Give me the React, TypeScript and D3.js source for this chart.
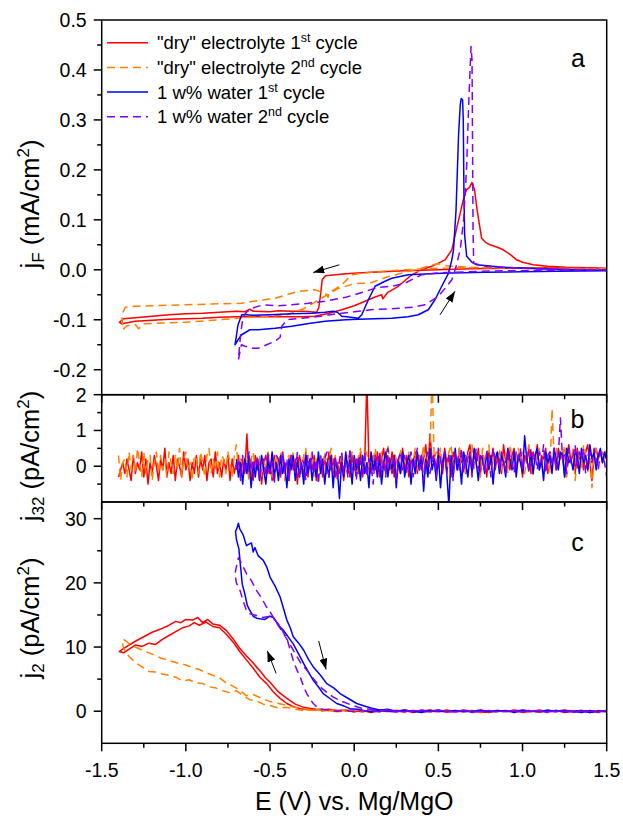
import React from "react";
import * as d3 from "d3";

// ---------- axis ticks ----------
const xTicksMajor = [-1.5, -1, -0.5, 0, 0.5, 1, 1.5];
const xTickLabels = ["-1.5", "-1.0", "-0.5", "0.0", "0.5", "1.0", "1.5"];
const xTicksMinor = [-1.25, -0.75, -0.25, 0.25, 0.75, 1.25];
const aTicks = [-0.2, -0.1, 0, 0.1, 0.2, 0.3, 0.4, 0.5];
const aTickLabels = ["-0.2", "-0.1", "0.0", "0.1", "0.2", "0.3", "0.4", "0.5"];
const aTicksMinor = [-0.15, -0.05, 0.05, 0.15, 0.25, 0.35, 0.45];
const bTicks = [0, 1, 2];
const bTickLabels = ["0", "1", "2"];
const bTicksMinor = [-0.5, 0.5, 1.5];
const cTicks = [0, 10, 20, 30];
const cTickLabels = ["0", "10", "20", "30"];
const cTicksMinor = [5, 15, 25];

// ---------- legend ----------
const seriesNames = [
  ['"dry" electrolyte 1', "st", " cycle"],
  ['"dry" electrolyte 2', "nd", " cycle"],
  ["1 w% water 1", "st", " cycle"],
  ["1 w% water 2", "nd", " cycle"],
];
const seriesColors = ["#ff0000", "#ff8000", "#0000ff", "#8000ff"];
const seriesDashed = [false, true, false, true];

// ---------- panel a: jF (mA/cm2) vs E (V) ----------
const aDry1: [number, number][] = [
  [1.5, 0.003], [1.3, 0.004], [1.1, 0.004], [0.9, 0.003], [0.7, 0.002], [0.5, 0.0], [0.3, -0.002], [0.1, -0.005],
  [-0.05, -0.008], [-0.17, -0.012], [-0.19, -0.02], [-0.2, -0.05], [-0.21, -0.075], [-0.223, -0.085], [-0.3, -0.083],
  [-0.37, -0.083], [-0.45, -0.082], [-0.5, -0.084], [-0.6, -0.083], [-0.62, -0.079], [-0.65, -0.084], [-0.7, -0.083],
  [-0.8, -0.085], [-0.9, -0.087], [-1.0, -0.088], [-1.1, -0.09], [-1.2, -0.093], [-1.3, -0.096], [-1.37, -0.098],
  [-1.395, -0.105],
  [-1.38, -0.108], [-1.3, -0.103], [-1.2, -0.101], [-1.1, -0.099], [-1.0, -0.098], [-0.9, -0.097], [-0.8, -0.095],
  [-0.7, -0.094], [-0.6, -0.094], [-0.5, -0.094], [-0.4, -0.094], [-0.3, -0.094], [-0.233, -0.093], [-0.15, -0.087],
  [-0.074, -0.08], [0.0, -0.072], [0.064, -0.063], [0.12, -0.055], [0.163, -0.05], [0.17, -0.058], [0.2, -0.045],
  [0.262, -0.033], [0.342, -0.01], [0.4, 0.0], [0.46, 0.007], [0.54, 0.02], [0.58, 0.04], [0.61, 0.085],
  [0.648, 0.14], [0.667, 0.16], [0.685, 0.165], [0.70, 0.175], [0.715, 0.16], [0.73, 0.12], [0.757, 0.063],
  [0.78, 0.055], [0.807, 0.05], [0.85, 0.045], [0.886, 0.04], [0.93, 0.03], [0.965, 0.02], [1.0, 0.015],
  [1.064, 0.01], [1.15, 0.007], [1.26, 0.005], [1.4, 0.004], [1.5, 0.003],
];
const aDry2: [number, number][] = [
  [1.5, 0.002], [1.2, 0.003], [0.9, 0.004], [0.6, 0.004], [0.4, 0.002], [0.2, -0.002], [0.04, -0.007],
  [-0.015, -0.01], [-0.074, -0.03], [-0.12, -0.04], [-0.15, -0.045], [-0.155, -0.055], [-0.17, -0.048],
  [-0.233, -0.04], [-0.33, -0.043], [-0.47, -0.057], [-0.6, -0.063], [-0.67, -0.067], [-0.8, -0.068],
  [-1.0, -0.07], [-1.2, -0.072], [-1.3, -0.073], [-1.36, -0.075], [-1.38, -0.09], [-1.375, -0.12],
  [-1.35, -0.112], [-1.3, -0.11], [-1.28, -0.118], [-1.25, -0.108], [-1.1, -0.106], [-1.0, -0.105],
  [-0.8, -0.1], [-0.62, -0.095], [-0.5, -0.093], [-0.4, -0.09], [-0.3, -0.078], [-0.2, -0.058], [-0.1, -0.038],
  [0.0, -0.028], [0.1, -0.026], [0.2, -0.014], [0.3, -0.005], [0.4, 0.003], [0.46, 0.01], [0.5, 0.012],
  [0.55, 0.008], [0.7, 0.005], [1.0, 0.003], [1.5, 0.002],
];
const aWater1: [number, number][] = [
  [1.5, -0.002], [1.2, -0.003], [1.0, -0.004], [0.777, -0.005], [0.52, -0.007], [0.322, -0.01], [0.223, -0.017],
  [0.183, -0.023], [0.124, -0.033], [0.084, -0.06], [0.045, -0.09], [0.024, -0.097], [-0.02, -0.095],
  [-0.074, -0.093], [-0.1, -0.085], [-0.124, -0.083], [-0.173, -0.085], [-0.25, -0.087], [-0.371, -0.088],
  [-0.5, -0.09], [-0.6, -0.091], [-0.64, -0.09], [-0.668, -0.09], [-0.69, -0.11], [-0.708, -0.15],
  [-0.69, -0.14], [-0.668, -0.13], [-0.62, -0.12], [-0.57, -0.12], [-0.47, -0.117], [-0.371, -0.113],
  [-0.26, -0.107], [-0.173, -0.103], [-0.05, -0.1], [0.024, -0.099], [0.223, -0.097], [0.32, -0.094],
  [0.381, -0.09], [0.44, -0.08], [0.48, -0.06], [0.52, -0.033], [0.56, -0.007], [0.58, 0.02], [0.59, 0.04],
  [0.605, 0.12], [0.62, 0.27], [0.63, 0.33], [0.636, 0.343], [0.644, 0.34], [0.648, 0.3], [0.652, 0.15],
  [0.656, 0.07], [0.668, 0.027], [0.7, 0.015], [0.728, 0.01], [0.88, 0.005], [1.1, 0.002], [1.3, 0.0],
  [1.5, -0.001],
];
const aWater2: [number, number][] = [
  [1.5, 0.0], [1.2, -0.001], [0.9, -0.002], [0.75, -0.003], [0.5, -0.006], [0.4, -0.01], [0.3, -0.027],
  [0.223, -0.033], [0.143, -0.035], [0.05, -0.045], [-0.05, -0.055], [-0.173, -0.063], [-0.272, -0.067],
  [-0.371, -0.07], [-0.45, -0.072], [-0.54, -0.07], [-0.609, -0.077], [-0.64, -0.085], [-0.66, -0.093],
  [-0.675, -0.13], [-0.688, -0.18],
  [-0.67, -0.15], [-0.649, -0.153], [-0.6, -0.157], [-0.57, -0.157], [-0.52, -0.15], [-0.47, -0.143],
  [-0.44, -0.135], [-0.43, -0.113], [-0.4, -0.1], [-0.312, -0.097], [-0.2, -0.093], [-0.1, -0.088],
  [0.0, -0.084], [0.1, -0.08], [0.262, -0.077], [0.35, -0.075], [0.42, -0.07], [0.5, -0.053], [0.55, -0.033],
  [0.58, -0.02], [0.6, 0.0], [0.63, 0.04], [0.65, 0.1], [0.668, 0.207], [0.68, 0.33], [0.694, 0.447],
  [0.7, 0.42], [0.703, 0.25], [0.706, 0.08], [0.71, 0.013], [0.78, 0.007], [1.0, 0.003], [1.2, 0.001],
  [1.5, 0.0],
];

// ---------- panel b: j32 (pA/cm2), sampled every 0.0125 V ----------
const bStep = 0.0125;
const bDryStart = -1.4;
const bWaterStart = -0.7;
const bDry1 = [
  -.3, -.1, .1, -.2, .2, -.1, -.4, .3, -.2, .1, -.1, .4, -.3, .2, -.5, .1, -.2, .3, 0, -.4,
  .2, -.1, .5, -.3, .1, -.2, .3, -.4, .2, 0, -.3, .4, -.1, .2, -.4, .1, -.2, .3, -.3, .2,
  -.1, .3, -.4, .1, .2, -.3, .4, -.2, .1, -.3, .2, -.1, .3, -.4, .2, -.2, .1, .3, -.3, .2,
  -.2, .9, -.3, .2, -.4, .3, -.1, .2, -.5, .1, .3, -.2, .1, -.4, .3, -.1, .2, -.3, .4, -.2,
  .1, -.4, .3, -.1, .2, -.5, .3, 0, -.2, .4, -.3, .2, -.1, .3, -.4, .2, .1, -.3, .3, -.2,
  .4, -.1, .2, -.3, .1, -.2, .3, -.4, .2, .1, -.3, .3, -.1, .2, -.2, .4, -.3, .1, 2.4, .1,
  -.2, .3, -.1, .4, -.3, .2, .5, -.2, .3, -.1, .4, -.3, .2, .1, -.2, .5, -.1, .3, -.3, .2,
  .1, .4, -.2, .3, -.1, .2, .6, -.2, .9, .2, .3, -.1, .4, .2, -.2, .5, .1, .3, -.3, .4,
  .2, -.1, .5, .1, .3, -.2, .4, .6, -.1, .3, .1, .5, -.2, .3, .2, -.3, .4, .1, .5, -.1,
  .3, .2, -.2, .6, .1, .4, -.1, .3, .5, 0, .2, .4, -.3, .3, .1, .5, -.2, .4, .2, .6,
  -.1, .3, .2, .5, -.2, .4, .1, .3, -.1, .5, .2, .4, -.3, .3, .6, .1, .4, -.2, .5, .2,
  .3, -.1, .4, .6, .1, -.4, .3, .5, .2, .4, .1, .3, .2,
];
const bDry2 = [
  .3, -.4, .1, .2, -.3, .4, -.1, .3, -.2, .5, .1, -.3, .4, -.2, .2, .3, -.4, .1, .4, -.2,
  .3, -.1, .2, -.3, .4, .1, -.2, .3, -.1, .5, -.3, .2, .4, -.1, .1, -.4, .3, .2, -.2, .4,
  .1, -.3, .3, .5, -.2, .2, -.1, .4, -.3, .3, .2, -.2, .4, .1, -.3, .3, .6, -.1, .2, -.2,
  .3, .1, -.4, .2, .4, -.2, .1, .3, -.3, .2, -.1, .4, .2, -.3, .1, .3, -.2, .4, .1, -.4,
  .2, .3, -.1, .4, -.3, .2, .1, -.2, .3, .5, -.2, .1, .4, -.3, .2, 0, .3, -.1, .4, -.2,
  .2, .5, -.1, .3, -.3, .1, .4, -.2, .2, .3, -.1, .4, .1, -.2, .3, .5, -.1, .2, .4, -.2,
  .3, .1, .5, -.2, .2, .4, -.1, .3, .6, .1, -.2, .4, .2, -.1, .5, .1, .3, -.2, .4, .2,
  .1, .5, -.1, .3, .2, .6, -.2, .4, .3, 2.6, .2, .4, -.1, .5, .1, .3, -.2, .4, .6, .1,
  .3, -.1, .5, .2, .4, -.2, .3, .1, .6, -.1, .4, .2, -.3, .5, .1, .3, .6, -.2, .4, .2,
  .1, .5, -.1, .3, .4, -.2, .6, .2, .3, -.1, .5, .2, .4, -.2, .3, .6, .1, -.3, .4, .2,
  .5, -.1, .3, .4, .1, -.2, 1.6, .3, .5, -.1, .4, .2, .6, -.3, .3, .1, .5, -.4, .2, .4,
  -.1, .6, .3, -.2, .4, -.6, .2, .5, .1, .3, .4, .2, .5,
];
const bWater1 = [
  .2, -.3, .1, -.5, .2, -.2, .3, -.6, .1, -.3, .2, -.4, .3, -.1, -.5, .2, -.2, .4, -.3, .1,
  -.4, .3, -.2, .1, -.6, .2, -.1, .3, -.4, .2, -.3, .1, -.5, .3, -.2, .2, -.4, .1, -.3, .4,
  -.2, .2, -.5, .1, -.3, .3, -.6, .2, -.1, -.9, .1, -.3, .4, -.2, .2, -.5, .3, -.1, .2, -.4,
  .3, -.2, .1, -.6, .4, -.1, .2, -.3, .3, -.5, .1, .4, -.3, .2, -.1, .3, -.6, .2, -.2, .4,
  -.3, .1, .3, -.5, .2, -.2, .4, -.1, .3, -.7, .2, -.3, .5, -.1, .2, -.4, .3, -.6, .1, .4,
  -.2, -1.1, .3, -.3, .5, -.1, .2, -.5, .4, .1, -.3, .3, -.2, .5, .1, -.4, .3, .2, -.2, .4,
  -.1, .3, -.5, .2, .4, -.2, .3, .1, -.3, .5, .2, -.1, .4, -.3, .3, .1, -.2, .85, .2, -.1,
  .4, -.2, .3, .5, -.1, .2, -.4, .4, .1, .3, -.2, .5, .2, -.1, .4, .3, -.3, .5, .1, .2,
  -.1, .4, .3, -.2, .5, .1, .3, -.1, .6, .2, .4, -.1, .3, .5, .1, .4, .2,
];
const bWater2 = [
  -.1, .2, -.4, .3, -.2, .1, .4, -.3, .2, -.1, .3, -.4, .1, .2, -.3, .4, -.2, .1, -.5, .3,
  .2, -.3, .4, -.1, .2, -.4, .3, .1, -.2, .4, -.3, .2, .1, -.4, .3, -.1, .4, -.2, .2, -.5,
  .3, -.1, .2, .4, -.3, .1, -.2, .3, -.4, .2, .4, -.2, .1, -.3, .5, -.1, .2, -.4, .3, .1,
  -.2, .4, -.3, .2, .1, -.5, .3, -.1, .4, -.2, .2, -.3, .5, .1, -.2, .3, -.4, .2, .4, -.1,
  .3, -.2, .1, .4, -.3, .2, .5, -.1, .3, -.4, .2, .4, -.2, .1, .3, -.3, .5, .2, -.1, .4,
  -.2, .3, .1, -.4, .4, .2, -.1, .5, -.2, .3, .1, .4, -.3, .2, .5, -.1, .3, .2, -.2, .4,
  .1, -.3, .5, .2, .3, -.1, .4, .2, -.2, .5, .3, .1, -.2, .4, .2, .5, -.1, .3, .4, -.2,
  .5, .2, .3, -.1, .4, .1, .6, -.2, .3, .4, .1, .5, -.1, .3, 1.35, .2, .4, -.2, .5, .1,
  .3, .6, -.1, .4, .2, .5, -.2, .3, .4, .1, .5, .2, -.1, .4, .3, .1, -.3,
];

// ---------- panel c: j2 (pA/cm2) vs E (V) ----------
const cDry1: [number, number][] = [
  [1.5, -.1], [1.45, .1], [1.4, -.2], [1.35, .1], [1.3, 0], [1.25, -.2], [1.2, .1], [1.15, -.1], [1.1, .2], [1.05, -.1],
  [1.0, 0], [0.95, .2], [0.9, -.1], [0.85, .1], [0.8, -.2], [0.75, .1], [0.7, 0], [0.65, .2], [0.6, -.1], [0.55, .1],
  [0.5, -.1], [0.45, .2], [0.4, 0], [0.35, -.1], [0.3, .2], [0.25, -.1], [0.2, .1], [0.15, 0], [0.1, .2], [0.05, -.1],
  [0, .1], [-0.05, .2], [-0.1, .1], [-0.15, .3], [-0.2, .2], [-0.25, .4], [-0.3, 0.6], [-0.35, 1.1], [-0.4, 2.0],
  [-0.45, 3.0], [-0.5, 4.5], [-0.53, 5.3], [-0.55, 6], [-0.6, 7.5], [-0.64, 8.6], [-0.68, 9.8], [-0.72, 11.3],
  [-0.76, 12.6], [-0.8, 13.4], [-0.84, 13.6], [-0.87, 14.3], [-0.9, 13.8], [-0.93, 14.6], [-0.96, 14.2],
  [-1.0, 14.3], [-1.03, 13.8], [-1.06, 14.0], [-1.1, 13.4], [-1.15, 12.8], [-1.2, 12.3], [-1.25, 11.6],
  [-1.3, 10.9], [-1.35, 10.1], [-1.38, 9.6], [-1.395, 9.3],
  [-1.37, 9.1], [-1.33, 9.8], [-1.3, 10.3], [-1.26, 10.1], [-1.22, 10.6], [-1.18, 10.4], [-1.14, 11.2],
  [-1.1, 11.8], [-1.06, 12.4], [-1.02, 13.0], [-0.98, 13.3], [-0.95, 13.8], [-0.92, 13.4], [-0.88, 13.9],
  [-0.84, 13.2], [-0.8, 13.0], [-0.76, 12.0], [-0.72, 10.8], [-0.68, 9.3], [-0.64, 8.0], [-0.6, 6.7],
  [-0.56, 5.3], [-0.52, 4.3], [-0.48, 3.0], [-0.44, 2.0], [-0.4, 1.2], [-0.36, 0.7], [-0.32, 0.4],
  [-0.26, 0.2], [-0.2, 0.3], [-0.15, 0.1], [-0.1, 0], [-0.05, .2], [0, -.1], [0.05, .1], [0.1, -.2], [0.15, .1],
  [0.2, 0], [0.25, -.1], [0.3, .1], [0.35, -.2], [0.4, .1], [0.45, 0], [0.5, -.1], [0.55, .2], [0.6, -.1],
  [0.65, 0], [0.7, .1], [0.75, -.2], [0.8, 0], [0.85, .1], [0.9, -.1], [0.95, .1], [1.0, -.2], [1.05, 0],
  [1.1, .1], [1.15, -.1], [1.2, 0], [1.25, .2], [1.3, -.1], [1.35, 0], [1.4, -.2], [1.45, .1], [1.5, -.1],
];
const cDry2: [number, number][] = [
  [1.5, .1], [1.45, -.1], [1.4, 0], [1.35, -.2], [1.3, .1], [1.25, 0], [1.2, -.1], [1.15, .1], [1.1, -.2], [1.05, 0],
  [1.0, .1], [0.95, -.1], [0.9, .1], [0.85, 0], [0.8, -.1], [0.75, .2], [0.7, 0], [0.65, -.1], [0.6, .1], [0.55, -.1],
  [0.5, .2], [0.45, 0], [0.4, -.1], [0.35, .1], [0.3, 0], [0.25, .2], [0.2, -.1], [0.15, .1], [0.1, 0], [0.05, .2],
  [0, .1], [-0.05, 0], [-0.1, .2], [-0.15, .1], [-0.2, .3], [-0.25, .2], [-0.3, .4], [-0.35, .6], [-0.4, .9],
  [-0.45, 1.2], [-0.5, 1.5], [-0.55, 2.0], [-0.6, 2.6], [-0.64, 2.4], [-0.68, 3.3], [-0.72, 3.9], [-0.76, 4.4],
  [-0.8, 5.2], [-0.84, 5.6], [-0.88, 6.0], [-0.92, 6.5], [-0.96, 6.8], [-1.0, 7.2], [-1.05, 7.5], [-1.1, 7.9],
  [-1.15, 8.3], [-1.2, 8.9], [-1.25, 9.4], [-1.3, 10.0], [-1.34, 10.6], [-1.37, 11.2], [-1.38, 11.0],
  [-1.37, 9.8], [-1.34, 8.6], [-1.3, 7.6], [-1.26, 6.9], [-1.22, 6.2], [-1.18, 6.1], [-1.14, 5.8], [-1.1, 5.6],
  [-1.06, 5.3], [-1.02, 4.7], [-0.98, 4.9], [-0.94, 4.4], [-0.9, 4.3], [-0.86, 3.8], [-0.82, 3.6], [-0.78, 3.2],
  [-0.74, 2.9], [-0.7, 3.2], [-0.66, 2.4], [-0.62, 1.8], [-0.58, 1.6], [-0.54, 1.1], [-0.5, 0.9], [-0.45, 0.5],
  [-0.4, 0.6], [-0.35, 0.3], [-0.3, 0.1], [-0.25, 0.2], [-0.2, 0], [-0.15, .1], [-0.1, -.1], [-0.05, .1], [0, 0],
  [0.05, -.1], [0.1, .1], [0.15, -.1], [0.2, 0], [0.25, .1], [0.3, -.2], [0.35, 0], [0.4, .1], [0.45, -.1],
  [0.5, 0], [0.55, .1], [0.6, -.1], [0.65, .1], [0.7, 0], [0.75, -.1], [0.8, .1], [0.85, -.2], [0.9, 0],
  [0.95, .1], [1.0, -.1], [1.05, 0], [1.1, .1], [1.15, -.1], [1.2, 0], [1.25, .1], [1.3, -.1], [1.35, 0],
  [1.4, .1], [1.45, -.1], [1.5, 0],
];
const cWater1: [number, number][] = [
  [1.5, 0.1], [1.45, -.1], [1.4, .1], [1.35, -.2], [1.3, 0], [1.25, .1], [1.2, -.1], [1.15, .2], [1.1, -.1],
  [1.05, 0], [1.0, .1], [0.95, -.2], [0.9, .1], [0.85, 0], [0.8, -.1], [0.75, .2], [0.7, -.1], [0.65, .1],
  [0.6, 0], [0.55, -.1], [0.5, .2], [0.45, 0], [0.4, .1], [0.35, -.1], [0.3, .2], [0.25, 0], [0.2, .3],
  [0.15, .2], [0.1, .5], [0.06, .8], [0.015, 1.2], [-0.03, 1.9], [-0.084, 2.75], [-0.12, 3.6], [-0.163, 4.3],
  [-0.2, 5.6], [-0.243, 6.9], [-0.27, 8.0], [-0.30, 9.5], [-0.33, 10.6], [-0.362, 11.6], [-0.38, 13.0],
  [-0.40, 14.2], [-0.42, 16.0], [-0.44, 17.8], [-0.47, 19.5], [-0.50, 20.9], [-0.52, 22.5], [-0.54, 23.5],
  [-0.57, 24.2], [-0.59, 25.5], [-0.6, 24.8], [-0.61, 26.2], [-0.62, 26.1], [-0.64, 25.8], [-0.66, 27.5],
  [-0.68, 28.4], [-0.688, 29.3], [-0.695, 28.6], [-0.705, 28.0],
  [-0.70, 26.8], [-0.685, 25.3], [-0.675, 22.5], [-0.665, 19.8], [-0.65, 18.3], [-0.635, 16.5], [-0.62, 15.7],
  [-0.6, 14.8], [-0.58, 14.5], [-0.56, 14.4], [-0.53, 14.3], [-0.5, 14.8], [-0.48, 14.6], [-0.46, 13.8],
  [-0.44, 13.1], [-0.42, 12.6], [-0.39, 11.5], [-0.362, 10.5], [-0.33, 8.9], [-0.30, 7.4], [-0.27, 6.0],
  [-0.243, 4.8], [-0.21, 3.7], [-0.184, 2.75], [-0.14, 1.9], [-0.104, 1.2], [-0.06, 0.8], [-0.025, 0.4],
  [0.02, 0.3], [0.05, 0.1], [0.1, -.1], [0.15, .1], [0.2, 0], [0.25, -.1], [0.3, .1], [0.35, 0], [0.4, -.2],
  [0.45, .1], [0.5, 0], [0.55, -.1], [0.6, .1], [0.65, -.1], [0.7, 0], [0.75, .1], [0.8, -.1], [0.85, .1],
  [0.9, 0], [0.95, -.1], [1.0, .2], [1.05, 0], [1.1, -.1], [1.15, 0], [1.2, .1], [1.25, -.1], [1.3, 0],
  [1.35, .1], [1.4, -.2], [1.45, 0], [1.5, -.1],
];
const cWater2: [number, number][] = [
  [1.5, .1], [1.45, -.1], [1.4, 0], [1.35, .1], [1.3, -.2], [1.25, 0], [1.2, .1], [1.15, -.1], [1.1, 0],
  [1.05, .2], [1.0, -.1], [0.95, 0], [0.9, .1], [0.85, -.1], [0.8, .1], [0.75, 0], [0.7, -.2], [0.65, .1],
  [0.6, 0], [0.55, -.1], [0.5, .1], [0.45, 0], [0.4, .2], [0.35, -.1], [0.3, .1], [0.25, 0], [0.2, .2],
  [0.15, .1], [0.1, .3], [0.05, .4], [-0.02, 1.0], [-0.08, 1.6], [-0.124, 2.2], [-0.16, 2.9], [-0.203, 3.8],
  [-0.24, 5.0], [-0.282, 6.4], [-0.32, 7.6], [-0.362, 9.5], [-0.39, 10.8], [-0.42, 12.1], [-0.46, 13.7],
  [-0.5, 15.5], [-0.52, 16.2], [-0.55, 17.6], [-0.58, 18.8], [-0.61, 20.3], [-0.639, 21.4], [-0.66, 22.5],
  [-0.675, 23.3], [-0.688, 23.9], [-0.70, 22.5], [-0.708, 21.4],
  [-0.70, 20.0], [-0.678, 18.8], [-0.66, 17.2], [-0.64, 15.7], [-0.62, 15.2], [-0.58, 14.9], [-0.54, 14.6],
  [-0.5, 14.8], [-0.47, 14.2], [-0.44, 13.3], [-0.42, 12.2], [-0.40, 11.4], [-0.38, 9.5], [-0.362, 7.9],
  [-0.34, 6.4], [-0.32, 5.3], [-0.30, 3.8], [-0.282, 2.75], [-0.26, 1.8], [-0.243, 1.2], [-0.22, 0.6],
  [-0.2, 0.3], [-0.15, 0.2], [-0.1, 0], [-0.05, .1], [0, -.1], [0.05, .1], [0.1, 0], [0.15, -.1], [0.2, .1],
  [0.25, 0], [0.3, -.1], [0.35, .1], [0.4, 0], [0.45, -.1], [0.5, .1], [0.55, 0], [0.6, -.1], [0.65, .1],
  [0.7, -.1], [0.75, 0], [0.8, .1], [0.85, -.1], [0.9, 0], [0.95, .1], [1.0, -.1], [1.05, 0], [1.1, .1],
  [1.15, -.2], [1.2, 0], [1.25, .1], [1.3, -.1], [1.35, 0], [1.4, .1], [1.45, -.2], [1.5, .1],
];

// sweep-direction arrows [fromE, fromJ, toE, toJ]
const aArrows = [
  [-0.088, 0.01, -0.243, -0.0054],
  [0.51, -0.09, 0.599, -0.043],
];
const cArrows = [
  [-0.464, 5.9, -0.516, 9.4],
  [-0.211, 10.95, -0.167, 6.5],
];

const FONT = "'Liberation Sans', Arial, Helvetica, sans-serif";
const X0 = 101.7, X1 = 606.7;
const A_TOP = 20, A_BOT = 394.7;
const B_TOP = 394.7, B_BOT = 502;
const C_TOP = 502, C_BOT = 743.3;

export default function App() {
  const x = d3.scaleLinear().domain([-1.5, 1.5]).range([X0, X1]);
  const ya = d3.scaleLinear().domain([-0.25, 0.5]).range([A_BOT, A_TOP]);
  const yb = d3.scaleLinear().domain([-1, 2]).range([B_BOT, B_TOP]);
  const yc = d3.scaleLinear().domain([-5, 32.6]).range([C_BOT, C_TOP]);

  const mk = (ys: d3.ScaleLinear<number, number>) =>
    d3.line<[number, number]>().x((d) => x(d[0])).y((d) => ys(d[1]));
  const la = mk(ya), lb = mk(yb), lc = mk(yc);
  const grid = (start: number, vals: number[]): [number, number][] =>
    vals.map((v, i) => [start + i * bStep, v]);

  const aSeries = [aDry1, aDry2, aWater1, aWater2];
  const bSeries = [grid(bDryStart, bDry1), grid(bDryStart, bDry2), grid(bWaterStart, bWater1), grid(bWaterStart, bWater2)];
  const cSeries = [cDry1, cDry2, cWater1, cWater2];

  const stroke = (i: number) => ({
    stroke: seriesColors[i],
    strokeWidth: 1.5,
    fill: "none",
    strokeDasharray: seriesDashed[i] ? "8,5" : undefined,
    strokeLinejoin: "round" as const,
  });

  const yAxis = (ys: d3.ScaleLinear<number, number>, major: number[], labels: string[], minor: number[]) => (
    <g>
      {major.map((t, i) => (
        <g key={"M" + i}>
          <line x1={X0 - 8} x2={X0} y1={ys(t)} y2={ys(t)} stroke="#000" strokeWidth={1.5} />
          <text x={X0 - 15} y={ys(t)} dy="0.35em" textAnchor="end" fontSize={19.5} fontFamily={FONT}>
            {labels[i]}
          </text>
        </g>
      ))}
      {minor.map((t, i) => (
        <line key={"m" + i} x1={X0 - 4.5} x2={X0} y1={ys(t)} y2={ys(t)} stroke="#000" strokeWidth={1.5} />
      ))}
    </g>
  );
  const xAxis = (yPos: number, withLabels: boolean) => (
    <g>
      {xTicksMajor.map((t, i) => (
        <g key={"M" + i}>
          <line x1={x(t)} x2={x(t)} y1={yPos} y2={yPos + 8} stroke="#000" strokeWidth={1.5} />
          {withLabels && (
            <text x={x(t)} y={yPos + 34} textAnchor="middle" fontSize={19.5} fontFamily={FONT}>
              {xTickLabels[i]}
            </text>
          )}
        </g>
      ))}
      {xTicksMinor.map((t, i) => (
        <line key={"m" + i} x1={x(t)} x2={x(t)} y1={yPos} y2={yPos + 4.5} stroke="#000" strokeWidth={1.5} />
      ))}
    </g>
  );

  const arrow = (a: number[], ys: d3.ScaleLinear<number, number>, k: string) => (
    <line key={k} x1={x(a[0])} y1={ys(a[1])} x2={x(a[2])} y2={ys(a[3])} stroke="#000" strokeWidth={1} markerEnd="url(#ah)" />
  );

  const yTitle = (cx: number, cy: number, sub: string, unit: string) => (
    <text transform={`translate(${cx},${cy}) rotate(-90)`} textAnchor="middle" fontSize={25.5} fontFamily={FONT}>
      j
      <tspan fontSize={17} dy={5}>{sub}</tspan>
      <tspan dy={-5}>{" (" + unit + "/cm"}</tspan>
      <tspan fontSize={17} dy={-10}>2</tspan>
      <tspan dy={10}>)</tspan>
    </text>
  );

  return (
    <svg width={623} height={821} style={{ position: "absolute", left: 0, top: 0, background: "#fff" }}>
      <defs>
        <clipPath id="clipA"><rect x={X0} y={A_TOP} width={X1 - X0} height={A_BOT - A_TOP} /></clipPath>
        <clipPath id="clipB"><rect x={X0} y={B_TOP} width={X1 - X0} height={B_BOT - B_TOP} /></clipPath>
        <clipPath id="clipC"><rect x={X0} y={C_TOP} width={X1 - X0} height={C_BOT - C_TOP} /></clipPath>
        <marker id="ah" markerUnits="userSpaceOnUse" markerWidth={11} markerHeight={8} refX={11} refY={4} orient="auto">
          <path d="M0,0 L11,4 L0,8 z" fill="#000" />
        </marker>
      </defs>
      <rect x={0} y={0} width={623} height={821} fill="#fff" />

      <g clipPath="url(#clipA)">
        {aSeries.map((s, i) => <path key={i} d={la(s) || ""} {...stroke(i)} />)}
      </g>
      <g clipPath="url(#clipB)">
        {bSeries.map((s, i) => <path key={i} d={lb(s) || ""} {...stroke(i)} />)}
      </g>
      <g clipPath="url(#clipC)">
        {cSeries.map((s, i) => <path key={i} d={lc(s) || ""} {...stroke(i)} />)}
      </g>

      {aArrows.map((a, i) => arrow(a, ya, "aa" + i))}
      {cArrows.map((a, i) => arrow(a, yc, "ca" + i))}

      {/* frames */}
      <rect x={X0} y={A_TOP} width={X1 - X0} height={A_BOT - A_TOP} fill="none" stroke="#000" strokeWidth={1.5} />
      <rect x={X0} y={B_TOP} width={X1 - X0} height={B_BOT - B_TOP} fill="none" stroke="#000" strokeWidth={1.5} />
      <rect x={X0} y={C_TOP} width={X1 - X0} height={C_BOT - C_TOP} fill="none" stroke="#000" strokeWidth={1.5} />

      {yAxis(ya, aTicks, aTickLabels, aTicksMinor)}
      {yAxis(yb, bTicks, bTickLabels, bTicksMinor)}
      {yAxis(yc, cTicks, cTickLabels, cTicksMinor)}
      {xAxis(A_BOT, false)}
      {xAxis(B_BOT, false)}
      {xAxis(C_BOT, true)}

      {/* legend */}
      {seriesNames.map((n, i) => {
        const cy = 42.7 + i * 24.7;
        return (
          <g key={i}>
            <line x1={107} x2={148} y1={cy} y2={cy} {...stroke(i)} />
            <text x={157} y={cy + 6.5} fontSize={18.5} fontFamily={FONT}>
              {n[0]}
              <tspan fontSize={12.5} dy={-7}>{n[1]}</tspan>
              <tspan dy={7}>{n[2]}</tspan>
            </text>
          </g>
        );
      })}

      {/* panel letters */}
      <text x={578} y={67} textAnchor="middle" fontSize={25} fontFamily={FONT}>a</text>
      <text x={577.5} y={428} textAnchor="middle" fontSize={25} fontFamily={FONT}>b</text>
      <text x={577.5} y={551} textAnchor="middle" fontSize={25} fontFamily={FONT}>c</text>

      {/* axis titles */}
      {yTitle(39, 204, "F", "mA")}
      {yTitle(39, 456, "32", "pA")}
      {yTitle(39, 618, "2", "pA")}
      <text x={(X0 + X1) / 2} y={810} textAnchor="middle" fontSize={25} fontFamily={FONT}>
        E (V) vs. Mg/MgO
      </text>
    </svg>
  );
}
